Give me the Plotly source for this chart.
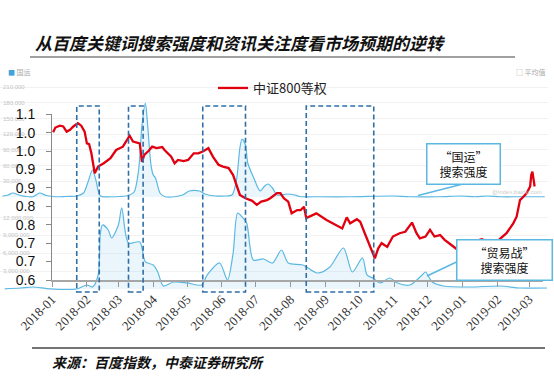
import plotly.graph_objects as go
from datetime import datetime, timedelta

# ---------------- data ----------------
csi_dates = [
    "2018-01-02", "2018-01-04", "2018-01-08", "2018-01-11", "2018-01-14", "2018-01-17", "2018-01-20",
    "2018-01-24", "2018-01-27", "2018-01-30", "2018-02-01", "2018-02-03", "2018-02-05", "2018-02-07",
    "2018-02-08", "2018-02-11", "2018-02-16", "2018-02-22", "2018-02-27", "2018-03-05", "2018-03-11",
    "2018-03-14", "2018-03-20", "2018-03-22", "2018-03-24", "2018-03-28", "2018-03-31", "2018-04-04",
    "2018-04-09", "2018-04-11", "2018-04-17", "2018-04-20", "2018-04-23", "2018-04-28", "2018-05-02",
    "2018-05-07", "2018-05-11", "2018-05-15", "2018-05-20", "2018-05-24", "2018-05-29", "2018-06-02",
    "2018-06-07", "2018-06-11", "2018-06-14", "2018-06-17", "2018-06-22", "2018-06-28", "2018-07-02",
    "2018-07-06", "2018-07-11", "2018-07-14", "2018-07-20", "2018-07-23", "2018-07-26", "2018-07-30",
    "2018-08-02", "2018-08-07", "2018-08-10", "2018-08-13", "2018-08-15", "2018-08-21", "2018-08-24",
    "2018-09-02", "2018-09-11", "2018-09-16", "2018-09-20", "2018-09-23", "2018-09-29", "2018-10-02",
    "2018-10-06", "2018-10-11", "2018-10-15", "2018-10-18", "2018-10-21", "2018-10-26", "2018-10-31",
    "2018-11-06", "2018-11-11", "2018-11-17", "2018-11-21", "2018-11-24", "2018-11-29", "2018-12-03",
    "2018-12-07", "2018-12-12", "2018-12-16", "2018-12-22", "2018-12-28", "2018-12-31", "2019-01-05",
    "2019-01-11", "2019-01-18", "2019-01-24", "2019-01-28", "2019-02-03", "2019-02-09", "2019-02-15",
    "2019-02-18", "2019-02-21", "2019-02-24", "2019-02-27", "2019-03-02", "2019-03-03", "2019-03-04",
    "2019-03-06",
]
csi_values = [
    1.001, 1.014, 1.019, 1.017, 1.003, 1.008, 1.017,
    1.026, 1.019, 1.003, 0.971, 0.969, 0.944, 0.913,
    0.890, 0.908, 0.917, 0.931, 0.953, 0.962, 0.992,
    0.976, 0.971, 0.921, 0.940, 0.951, 0.962, 0.958,
    0.961, 0.953, 0.935, 0.917, 0.926, 0.923, 0.926,
    0.944, 0.944, 0.949, 0.958, 0.935, 0.913, 0.908,
    0.904, 0.885, 0.858, 0.831, 0.822, 0.815, 0.804,
    0.813, 0.817, 0.822, 0.836, 0.836, 0.822, 0.813,
    0.781, 0.790, 0.790, 0.799, 0.768, 0.777, 0.781,
    0.763, 0.749, 0.740, 0.770, 0.754, 0.765, 0.758,
    0.727, 0.690, 0.659, 0.686, 0.700, 0.690, 0.718,
    0.727, 0.731, 0.756, 0.727, 0.713, 0.718, 0.736,
    0.718, 0.722, 0.709, 0.695, 0.682, 0.674, 0.700,
    0.704, 0.711, 0.704, 0.686, 0.711, 0.727, 0.754,
    0.772, 0.817, 0.826, 0.836, 0.854, 0.885, 0.894,
    0.854,
]

# Baidu index "国运" (search intensity)
guoyun_dates = [
    "2017-11-18", "2017-11-23", "2017-11-27", "2017-12-04", "2017-12-15", "2017-12-21", "2017-12-27",
    "2018-01-04", "2018-01-13", "2018-01-23", "2018-01-29", "2018-02-02", "2018-02-06", "2018-02-09",
    "2018-02-13", "2018-02-22", "2018-03-02", "2018-03-10", "2018-03-15", "2018-03-19", "2018-03-22",
    "2018-03-25", "2018-03-27", "2018-03-30", "2018-04-01", "2018-04-03", "2018-04-07", "2018-04-11",
    "2018-04-20", "2018-04-27", "2018-05-03", "2018-05-12", "2018-05-17", "2018-05-26", "2018-06-03",
    "2018-06-10", "2018-06-14", "2018-06-17", "2018-06-19", "2018-06-22", "2018-06-24", "2018-06-29",
    "2018-07-05", "2018-07-09", "2018-07-12", "2018-07-16", "2018-07-20", "2018-07-29", "2018-08-05",
    "2018-08-09", "2018-08-27", "2018-09-23", "2018-10-31", "2018-11-15", "2018-12-12", "2018-12-30",
    "2019-01-12", "2019-01-23", "2019-02-03", "2019-02-21", "2019-03-15",
]
guoyun_values = [
    1900, 3800, 7600, 2900, 500, 7600, 2900,
    500, 1000, 1900, 7600, 28700, 51600, 32500,
    1900, 500, 1000, 2900, 9600, 51600, 137600,
    179600, 137600, 61000, 42000, 36300, 7600, 1000,
    500, 3800, 11500, 11500, 5700, 1900, 1900,
    3800, 32500, 93600, 110800, 99400, 65000, 38200,
    11500, 21000, 24800, 17200, 3800, 5700, 3800,
    1000, 500, 500, 1900, 500, 500, 1900,
    500, 1900, 500, 500, 500,
]

# Baidu index "贸易战" (search intensity)
trade_dates = [
    "2017-11-20", "2017-12-04", "2017-12-15", "2017-12-30", "2018-01-23", "2018-02-01", "2018-02-06",
    "2018-02-11", "2018-02-13", "2018-02-15", "2018-02-20", "2018-02-23", "2018-03-01", "2018-03-04",
    "2018-03-10", "2018-03-20", "2018-03-25", "2018-04-01", "2018-04-05", "2018-04-10", "2018-04-19",
    "2018-05-01", "2018-05-14", "2018-05-19", "2018-05-30", "2018-06-06", "2018-06-11", "2018-06-15",
    "2018-06-19", "2018-06-23", "2018-06-29", "2018-07-08", "2018-07-16", "2018-07-24", "2018-07-30",
    "2018-08-12", "2018-08-25", "2018-09-05", "2018-09-17", "2018-09-25", "2018-10-04", "2018-10-08",
    "2018-10-13", "2018-10-20", "2018-10-28", "2018-11-04", "2018-11-15", "2018-11-26", "2018-11-29",
    "2018-12-05", "2018-12-15", "2019-01-08", "2019-02-03", "2019-02-21", "2019-03-17",
]
trade_values = [
    30000, 168000, 335000, 30000, 30000, 670000, 335000,
    2350000, 9390000, 10730000, 9890000, 8550000, 10730000, 13580000,
    7710000, 7880000, 4530000, 4020000, 2850000, 503000, 1170000,
    1010000, 670000, 2350000, 4360000, 1510000, 6030000, 12740000,
    12070000, 11060000, 4860000, 5030000, 4360000, 6540000, 4360000,
    4020000, 2680000, 3690000, 6870000, 2850000, 5200000, 2350000,
    1840000, 1010000, 1840000, 1010000, 670000, 2350000, 2850000,
    1170000, 503000, 335000, 503000, 168000, 168000,
]

# highlighted periods (dashed boxes)
period_starts = ["2018-01-23", "2018-03-10", "2018-05-15", "2018-08-15"]
period_ends = ["2018-02-12", "2018-03-23", "2018-06-22", "2018-10-14"]

y_tickvals = [0.6, 0.65, 0.7, 0.75, 0.8, 0.85, 0.9, 0.95, 1.0, 1.05]
y_ticktext = ["0.6", "0.7", "0.7", "0.8", "0.8", "0.9", "0.9", "1.0", "1.0", "1.1"]

guoyun_tickvals = [30000, 60000, 90000, 120000, 150000, 180000, 210000]
guoyun_ticktext = ["30,000", "60,000", "90,000", "120,000", "150,000", "180,000", "210,000"]
trade_tickvals = [3000000, 6000000, 9000000, 12000000]
trade_ticktext = ["3,000,000", "6,000,000", "9,000,000", "12,000,000"]

# ---------------- layout geometry ----------------
W, H = 554, 380
ORIGIN = datetime(2018, 1, 1)
X0_PX, PX_PER_DAY = 52, 1.125


def fx(px):
    return px / W


def fy(py):
    return 1 - py / H


def px_date(px):
    return (ORIGIN + timedelta(days=(px - X0_PX) / PX_PER_DAY)).strftime("%Y-%m-%d %H:%M")


BLUE = "#5bb8e2"
FILL = "rgba(91,184,226,0.13)"
RED = "#e10010"
CJK = "Noto Sans CJK SC"

fig = go.Figure()

fig.add_trace(go.Scatter(
    x=guoyun_dates, y=guoyun_values, xaxis="x", yaxis="y", mode="lines",
    line=dict(color=BLUE, width=1.2, shape="spline", smoothing=0.8),
    fill="tozeroy", fillcolor=FILL, showlegend=False, hoverinfo="skip"))

fig.add_trace(go.Scatter(
    x=trade_dates, y=trade_values, xaxis="x", yaxis="y2", mode="lines",
    line=dict(color=BLUE, width=1.2, shape="spline", smoothing=0.8),
    fill="tozeroy", fillcolor=FILL, showlegend=False, hoverinfo="skip"))

fig.add_trace(go.Scatter(
    x=csi_dates, y=csi_values, xaxis="x2", yaxis="y3", mode="lines",
    name="中证800等权", line=dict(color=RED, width=2.3)))

shapes = []
for s, e in zip(period_starts, period_ends):
    shapes.append(dict(type="rect", xref="x2", yref="paper", x0=s, x1=e,
                       y0=fy(292), y1=fy(106),
                       line=dict(color="#2f6fa6", width=1.6, dash="5px,3px")))
# title rule and footer rule
shapes.append(dict(type="line", xref="paper", yref="paper", x0=fx(30), x1=fx(515),
                   y0=fy(57), y1=fy(57), line=dict(color="#808080", width=1.5)))
shapes.append(dict(type="line", xref="paper", yref="paper", x0=fx(32), x1=fx(545),
                   y0=fy(348), y1=fy(348), line=dict(color="#444444", width=1.5)))
# callout connectors
shapes.append(dict(type="line", xref="paper", yref="paper", x0=fx(463), x1=fx(418),
                   y0=fy(184), y1=fy(195.5), line=dict(color=BLUE, width=1.5)))
shapes.append(dict(type="line", xref="paper", yref="paper", x0=fx(457), x1=fx(427),
                   y0=fy(261.7), y1=fy(276), line=dict(color=BLUE, width=1.5)))

annotations = [
    dict(text="从百度关键词搜索强度和资讯关注度看市场预期的逆转", xref="paper", yref="paper",
         x=fx(33), y=fy(42), xanchor="left", yanchor="middle", showarrow=False,
         font=dict(family=CJK, size=17, color="#111111", style="italic", weight="bold")),
    dict(text="来源：百度指数，中泰证券研究所", xref="paper", yref="paper",
         x=fx(50), y=fy(362), xanchor="left", yanchor="middle", showarrow=False,
         font=dict(family=CJK, size=14, color="#111111", style="italic", weight="bold")),
    dict(text="“国运”<br>搜索强度", xref="paper", yref="paper",
         x=fx(463.7), y=fy(163.8), xanchor="center", yanchor="middle", showarrow=False,
         width=70, height=37, borderpad=1, bordercolor=BLUE, borderwidth=1.5, bgcolor="white",
         font=dict(family=CJK, size=12, color="#111111")),
    dict(text="“贸易战”<br>搜索强度", xref="paper", yref="paper",
         x=fx(504.7), y=fy(260.4), xanchor="center", yanchor="middle", showarrow=False,
         width=92, height=37, borderpad=1, bordercolor=BLUE, borderwidth=1.5, bgcolor="white",
         font=dict(family=CJK, size=12, color="#111111")),
    dict(text="<span style='color:#3fa4dc'>■</span> 国运", xref="paper", yref="paper",
         x=fx(6), y=fy(72), xanchor="left", yanchor="middle", showarrow=False,
         font=dict(family=CJK, size=7, color="#aaaaaa")),
    dict(text="□ 平均值", xref="paper", yref="paper",
         x=fx(514), y=fy(72), xanchor="left", yanchor="middle", showarrow=False,
         font=dict(family=CJK, size=7, color="#aaaaaa")),
    dict(text="@index.baidu.com", xref="paper", yref="paper",
         x=fx(490), y=fy(192), xanchor="left", yanchor="middle", showarrow=False,
         font=dict(family="Liberation Sans", size=6, color="#cccccc")),
]

fig.update_layout(
    template="none",
    width=W, height=H,
    margin=dict(l=0, r=0, t=0, b=0, autoexpand=False),
    paper_bgcolor="white", plot_bgcolor="rgba(0,0,0,0)",
    showlegend=True,
    legend=dict(x=fx(213), y=fy(88), xanchor="left", yanchor="middle",
                orientation="h", bgcolor="rgba(0,0,0,0)",
                font=dict(family=CJK, size=13, color="#222222")),
    xaxis=dict(domain=[0, fx(548)], range=[px_date(0), px_date(548)], type="date",
               visible=False, anchor="y", automargin=False),
    yaxis=dict(domain=[fy(200), fy(60)], range=[(197 - 200) * 1911, (197 - 60) * 1911],
               anchor="x", showline=False, zeroline=False, showgrid=True, gridcolor="#f1f1f1",
               tickvals=guoyun_tickvals, ticktext=guoyun_ticktext, ticks="", automargin=False,
               ticklabelposition="inside", tickfont=dict(family="Liberation Sans", size=6, color="#c4c4c4")),
    yaxis2=dict(domain=[fy(300), fy(200)], range=[(289 - 300) * 167600, (289 - 200) * 167600],
                anchor="x", showline=False, zeroline=False, showgrid=True, gridcolor="#f3f3f3",
                tickvals=trade_tickvals, ticktext=trade_ticktext, ticks="", automargin=False,
                ticklabelposition="inside", tickfont=dict(family="Liberation Sans", size=6, color="#c4c4c4")),
    xaxis2=dict(domain=[fx(52), fx(543)], range=[px_date(52), px_date(543)], type="date",
                anchor="y3", dtick="M1", tick0="2018-01-01", tickformat="%Y-%m", tickangle=-45,
                ticks="outside", ticklen=5, tickcolor="#999999", showline=True, automargin=False,
                linecolor="#a6a6a6", linewidth=1.6, showgrid=False, zeroline=False,
                tickfont=dict(family="Liberation Serif", size=13, color="#333333")),
    yaxis3=dict(domain=[fy(280), fy(114.3)], range=[0.6, 1.05], anchor="x2",
                tickvals=y_tickvals, ticktext=y_ticktext, ticks="outside", ticklen=5,
                tickcolor="#888888", showline=True, linecolor="#888888", linewidth=1,
                showgrid=False, zeroline=False, ticklabelstandoff=8, automargin=False,
                tickfont=dict(family="Liberation Sans", size=14, color="#111111")),
    shapes=shapes,
    annotations=annotations,
)

fig.write_html("out.html", config={"displayModeBar": False},
               post_script="document.body.style.margin='0px';")
